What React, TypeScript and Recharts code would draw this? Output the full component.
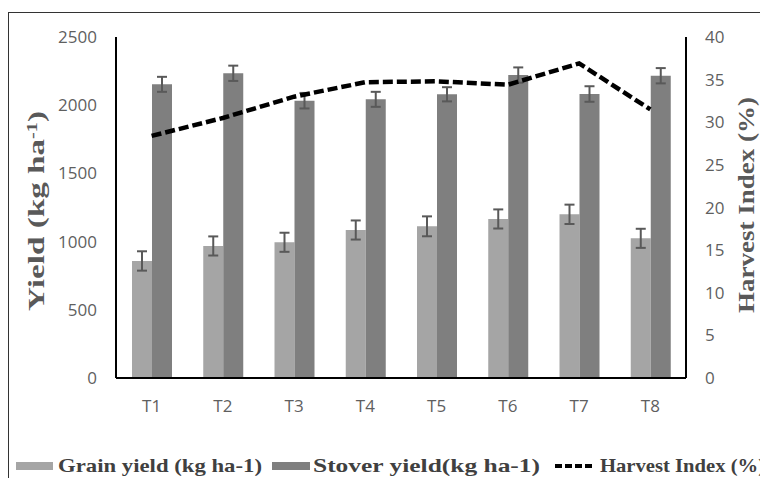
import React from 'react';
import { ComposedChart, Bar, Line, XAxis, YAxis, ErrorBar } from 'recharts';

const categories = ['T1', 'T2', 'T3', 'T4', 'T5', 'T6', 'T7', 'T8'];
const grainYield = [858, 968, 995, 1085, 1112, 1166, 1200, 1024];
const grainErr = [71, 70, 70, 70, 73, 70, 71, 70];
const stoverYield = [2153, 2234, 2033, 2043, 2080, 2221, 2082, 2216];
const stoverErr = [55, 56, 57, 55, 52, 56, 57, 56];
const harvestIndex = [28.4, 30.5, 33.0, 34.7, 34.8, 34.4, 36.9, 31.5];
const leftTicks = [0, 500, 1000, 1500, 2000, 2500];
const rightTicks = [0, 5, 10, 15, 20, 25, 30, 35, 40];

const data = categories.map((name, i) => ({
  name,
  grain: grainYield[i],
  grainErr: grainErr[i],
  stover: stoverYield[i],
  stoverErr: stoverErr[i],
  hi: harvestIndex[i],
}));

const W = 759;
const H = 465;
const tickStyle = { fontFamily: '"Open Sans", sans-serif', fontSize: 17, fill: '#5f5f5f' };
const titleFont = '"Liberation Serif", "Times New Roman", serif';

const LeftTitle = () => (
  <text
    x={35}
    y={198}
    transform="rotate(-90, 35, 198)"
    textAnchor="middle"
    fontFamily={titleFont}
    fontWeight="bold"
    fontSize={23}
    fill="#595959"
    textLength={200}
    lengthAdjust="spacingAndGlyphs"
  >
    Yield (kg ha<tspan baselineShift="super" fontSize={14}>-1</tspan>)
  </text>
);

const RightTitle = () => (
  <text
    x={745}
    y={192}
    transform="rotate(-90, 745, 192)"
    textAnchor="middle"
    fontFamily={titleFont}
    fontWeight="bold"
    fontSize={23}
    fill="#595959"
    textLength={216}
    lengthAdjust="spacingAndGlyphs"
  >
    Harvest Index (%)
  </text>
);

const legendText = { fontFamily: titleFont, fontWeight: 'bold' as const, fontSize: 19, fill: '#404040' };

const LegendBox = () => (
  <svg width={W} height={32} style={{ position: 'absolute', left: 0, top: 437 }}>
    <rect x={7} y={12} width={37} height={8} fill="#a5a5a5" />
    <text x={49} y={22} {...legendText} textLength={204} lengthAdjust="spacingAndGlyphs">Grain yield (kg ha-1)</text>
    <rect x={263} y={12} width={38} height={8} fill="#7f7f7f" />
    <text x={304} y={22} {...legendText} textLength={227} lengthAdjust="spacingAndGlyphs">Stover yield(kg ha-1)</text>
    <line x1={546} y1={16} x2={586} y2={16} stroke="#000" strokeWidth={4} strokeDasharray="7 3" />
    <text x={591} y={22} {...legendText} textLength={165} lengthAdjust="spacingAndGlyphs">Harvest Index (%)</text>
  </svg>
);

export default function App() {
  return (
    <div
      style={{
        position: 'relative',
        width: W,
        height: H,
        marginTop: 4,
        borderTop: '1px solid #333',
        borderLeft: '1px solid #333',
      }}
    >
      <ComposedChart width={W} height={H} data={data} margin={{ top: 24, right: 0, left: 0, bottom: 0 }} barGap={0} barSize={20}>
        <XAxis
          dataKey="name"
          height={100}
          axisLine={{ stroke: '#000', strokeWidth: 2 }}
          tickLine={false}
          tickSize={0}
          tickMargin={22}
          tick={tickStyle}
        />
        <YAxis
          yAxisId="left"
          width={107}
          domain={[0, 2500]}
          ticks={leftTicks}
          axisLine={{ stroke: '#000', strokeWidth: 2 }}
          tickLine={false}
          tickSize={0}
          tickMargin={19}
          tick={tickStyle}
        />
        <YAxis
          yAxisId="right"
          orientation="right"
          width={82}
          domain={[0, 40]}
          ticks={rightTicks}
          axisLine={{ stroke: '#000', strokeWidth: 2 }}
          tickLine={false}
          tickSize={0}
          tickMargin={19}
          tick={{ ...tickStyle, textAnchor: 'start' }}
        />
        <Bar yAxisId="left" dataKey="grain" fill="#a5a5a5" isAnimationActive={false}>
          <ErrorBar dataKey="grainErr" width={5} stroke="#595959" strokeWidth={2} />
        </Bar>
        <Bar yAxisId="left" dataKey="stover" fill="#7f7f7f" isAnimationActive={false}>
          <ErrorBar dataKey="stoverErr" width={5} stroke="#595959" strokeWidth={2} />
        </Bar>
        <Line
          yAxisId="right"
          dataKey="hi"
          type="linear"
          stroke="#000"
          strokeWidth={4.5}
          strokeDasharray="10 4"
          dot={false}
          activeDot={false}
          isAnimationActive={false}
        />
        <LeftTitle />
        <RightTitle />
      </ComposedChart>
      <LegendBox />
    </div>
  );
}
